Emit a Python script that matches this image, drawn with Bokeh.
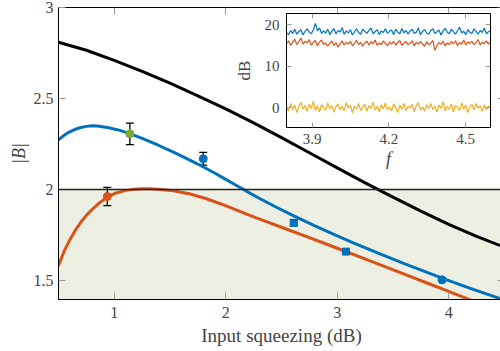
from bokeh.plotting import figure
from bokeh.models import (ColumnDataSource, Whisker, TeeHead, BoxAnnotation, Span,
                          LinearAxis, FixedTicker, Range1d)
from bokeh.layouts import column
from bokeh.embed import file_html
from bokeh.resources import INLINE

FONT = "Liberation Serif"
BLUE = "#0072BD"
ORANGE = "#D95319"
GREEN = "#77AC30"
YELLOW = "#EDB120"
SHADE = "#ECEFE2"

# ---- main curves ----
black_x = [0.5, 0.75, 1.0, 1.25, 1.5, 1.75, 2.0, 2.25, 2.5, 2.75, 3.0, 3.25, 3.5, 3.75, 4.0, 4.25, 4.5]
black_y = [2.809, 2.765, 2.710, 2.649, 2.584, 2.515, 2.443, 2.366, 2.285, 2.202, 2.119, 2.037, 1.958, 1.881, 1.809, 1.743, 1.683]

blue_x = [0.5, 0.55, 0.6, 0.65, 0.7, 0.75, 0.8, 0.85, 0.95, 1.05, 1.14, 1.25, 1.4, 1.55, 1.7, 1.8, 1.9, 2.0, 2.1, 2.18, 2.3, 2.45, 2.61, 2.8, 3.0, 3.16, 3.4, 3.6, 3.8, 3.964, 4.2, 4.5]
blue_y = [2.273, 2.298, 2.317, 2.331, 2.341, 2.347, 2.350, 2.349, 2.339, 2.325, 2.307, 2.281, 2.242, 2.200, 2.155, 2.124, 2.091, 2.056, 2.021, 1.993, 1.952, 1.904, 1.855, 1.800, 1.745, 1.703, 1.642, 1.593, 1.546, 1.508, 1.456, 1.393]

orange_x = [0.5, 0.55, 0.6, 0.65, 0.7, 0.75, 0.8, 0.87, 0.9375, 1.01, 1.095, 1.17, 1.25, 1.32, 1.393, 1.53, 1.672, 1.82, 1.97, 2.12, 2.268, 2.5, 2.714, 2.9, 3.071, 3.3, 3.607, 3.8, 3.964, 4.21, 4.3]
orange_y = [1.582, 1.660, 1.722, 1.775, 1.820, 1.858, 1.890, 1.928, 1.958, 1.980, 1.994, 2.001, 2.004, 2.004, 2.002, 1.993, 1.977, 1.951, 1.918, 1.882, 1.846, 1.793, 1.744, 1.701, 1.661, 1.607, 1.534, 1.488, 1.449, 1.390, 1.368]

# ---- measured points ----
green_x, green_y, green_err = [1.14], [2.306], [0.059]
bcirc_x, bcirc_y, bcirc_err = [1.798, 3.94], [2.169, 1.504], [0.035, 0.008]
bsq_x, bsq_y, bsq_err = [2.61, 3.078], [1.817, 1.659], [0.016, 0.008]
ocirc_x, ocirc_y, ocirc_err = [0.9375], [1.962], [0.05]

threshold = 2.0

x_min, x_max = 0.5, 4.5
y_min, y_max = 1.396, 3.0
x_ticks = [1, 2, 3, 4]
y_ticks = [1.5, 2, 2.5, 3]

# ---- inset traces (estimated) ----
f_start, f_stop = 3.8, 4.597
db_min, db_max = -4.8, 22.7
trace_blue = [18.1,17.6,18.6,17.9,18.9,17.7,18.3,18.8,17.5,18.4,
 19.0,18.2,17.8,18.7,20.3,18.6,19.2,17.9,18.5,18.0,
 18.9,17.6,18.4,19.1,17.8,18.6,18.2,19.3,17.7,18.5,
 18.0,18.8,17.5,18.3,19.0,18.1,17.7,18.9,18.4,17.9,
 18.6,19.2,17.8,18.3,18.8,17.6,18.5,18.1,19.0,17.9,
 18.4,18.7,17.6,18.9,18.2,17.8,19.1,18.0,18.6,17.7,
 18.5,18.9,17.9,18.2,19.2,17.6,18.4,18.8,18.0,17.7,
 18.6,19.0,17.9,18.3,18.7,17.5,18.5,19.1,18.2,17.8,
 18.9,18.3,17.7,18.6,19.4,18.0,18.4,17.6,18.8,18.2,
 17.9,19.0,18.4,17.7,18.6,18.1,19.2,17.8,18.3,18.5]
trace_orange = [15.4,16.1,15.0,15.8,16.5,15.2,15.9,16.8,15.3,16.0,
 15.6,16.4,15.1,15.7,16.2,14.9,15.8,16.3,15.2,15.6,
 14.8,15.5,16.0,15.0,15.7,14.6,15.4,16.1,15.1,15.8,
 15.3,16.0,14.9,15.5,16.2,15.2,15.7,14.8,15.6,16.0,
 15.1,15.9,15.4,16.3,15.0,15.6,15.2,16.1,15.5,14.9,
 15.8,15.3,16.0,15.1,15.7,16.2,15.0,15.6,15.9,15.2,
 15.5,16.1,14.9,15.7,15.3,16.0,15.4,14.8,15.9,15.2,
 15.6,16.2,13.8,15.0,15.7,15.3,16.0,14.9,15.6,15.2,
 15.9,15.4,16.1,15.0,15.7,15.3,16.3,15.1,15.8,15.5,
 16.0,15.2,15.7,16.4,15.1,15.8,15.4,16.1,15.3,15.9]
trace_yellow = [0.3,-0.8,1.0,-0.5,0.6,-1.2,0.2,1.3,-0.4,0.5,
 -0.9,0.8,-0.2,1.5,-0.7,0.4,-1.0,0.7,0.0,-0.6,
 1.1,-0.3,0.5,-1.1,0.2,0.9,-0.5,0.3,-0.8,1.2,
 -0.1,0.6,-1.3,0.4,-0.4,1.0,-0.7,0.1,0.8,-0.9,
 0.5,-0.2,1.3,-0.6,0.3,-1.0,0.7,-0.3,1.1,-0.5,
 0.2,-0.8,0.9,0.0,-1.2,0.6,-0.4,1.0,-0.7,0.3,
 -0.1,0.8,-1.0,0.5,1.2,-0.6,0.2,-0.9,0.7,-0.3,
 1.0,-0.5,0.4,-1.1,0.6,-0.2,1.4,-0.8,0.3,-0.4,
 0.9,-1.0,0.5,0.1,-0.7,1.1,-0.3,0.6,-1.2,0.2,
 0.8,-0.6,1.0,-0.2,0.4,-0.9,0.7,-0.5,0.3,0.1]
inset_x_ticks = [3.9, 4.2, 4.5]
inset_y_ticks = [0, 10, 20]

n = len(trace_blue)
freqs = [f_start + (f_stop - f_start) * i / (n - 1) for i in range(n)]

TICK_COLOR = "#9a9a9a"


def style_axis(ax, size="16px", tick_len=7):
    ax.axis_line_color = "black"
    ax.major_tick_in = tick_len
    ax.major_tick_out = 0
    ax.minor_tick_in = 0
    ax.minor_tick_out = 0
    ax.minor_tick_line_color = None
    ax.major_tick_line_color = TICK_COLOR
    ax.major_label_text_font = FONT
    ax.major_label_text_font_size = size
    ax.axis_label_text_font = FONT
    ax.axis_label_text_font_style = "normal"


def mirror_axis(fig, ticks, side, loc, tick_len):
    ax = LinearAxis(ticker=FixedTicker(ticks=ticks), fixed_location=loc)
    style_axis(ax, tick_len=tick_len)
    ax.major_label_text_color = None
    ax.major_label_text_font_size = "1px"
    ax.major_label_standoff = 0
    fig.add_layout(ax, side)


p = figure(frame_width=447, frame_height=292, x_range=Range1d(x_min, x_max), y_range=Range1d(y_min, y_max),
           output_backend="svg", toolbar_location=None,
           min_border_left=52, min_border_right=1, min_border_top=7, min_border_bottom=52)
p.background_fill_color = "white"
p.border_fill_color = "white"
p.outline_line_color = "black"
p.xgrid.visible = False
p.ygrid.visible = False

p.xaxis.ticker = FixedTicker(ticks=x_ticks)
p.yaxis.ticker = FixedTicker(ticks=y_ticks)
style_axis(p.xaxis[0], "16px")
style_axis(p.yaxis[0], "16px")
p.xaxis.axis_label = "Input squeezing (dB)"
p.xaxis.axis_label_text_font_size = "19px"
p.xaxis.major_label_standoff = 7
p.xaxis.axis_label_standoff = 4
p.yaxis.axis_label = "|B|"
p.yaxis.axis_label_text_font_size = "18px"
p.yaxis.axis_label_text_font_style = "italic"
p.yaxis.major_label_standoff = 5
p.yaxis.axis_label_standoff = 2

mirror_axis(p, x_ticks, "above", y_max, 7)
mirror_axis(p, y_ticks, "right", x_max, 7)

p.add_layout(BoxAnnotation(top=threshold, fill_color=SHADE, fill_alpha=1.0, line_color=None, level="underlay"))
p.add_layout(Span(location=threshold, dimension="width", line_color="#222222", line_width=1.5))

p.line(black_x, black_y, line_color="black", line_width=3)
p.line(blue_x, blue_y, line_color=BLUE, line_width=3)
p.line(orange_x, orange_y, line_color=ORANGE, line_width=3)


def add_points(xs, ys, errs, color, marker, size):
    src = ColumnDataSource(dict(x=xs, y=ys,
                                lo=[a - b for a, b in zip(ys, errs)],
                                hi=[a + b for a, b in zip(ys, errs)]))
    w = Whisker(source=src, base="x", lower="lo", upper="hi", line_color="black", line_width=1.3,
                upper_head=TeeHead(size=8, line_color="black", line_width=1.3),
                lower_head=TeeHead(size=8, line_color="black", line_width=1.3))
    p.add_layout(w)
    p.scatter("x", "y", source=src, marker=marker, size=size, fill_color=color, line_color=color)


add_points(green_x, green_y, green_err, GREEN, "circle", 8)
add_points(bcirc_x, bcirc_y, bcirc_err, BLUE, "circle", 8)
add_points(bsq_x, bsq_y, bsq_err, BLUE, "square", 7)
add_points(ocirc_x, ocirc_y, ocirc_err, ORANGE, "circle", 8)

# ---- inset ----
ins = figure(frame_width=204, frame_height=114, x_range=Range1d(f_start, f_stop), y_range=Range1d(db_min, db_max),
             output_backend="svg", toolbar_location=None,
             min_border_left=58, min_border_right=10, min_border_top=13, min_border_bottom=48)
ins.border_fill_color = None
ins.background_fill_color = "white"
ins.outline_line_color = "black"
ins.xgrid.visible = False
ins.ygrid.visible = False
ins.xaxis.ticker = FixedTicker(ticks=inset_x_ticks)
ins.yaxis.ticker = FixedTicker(ticks=inset_y_ticks)
style_axis(ins.xaxis[0], "15px", 5)
style_axis(ins.yaxis[0], "15px", 5)
ins.xaxis.axis_label = "f"
ins.xaxis.axis_label_text_font_style = "italic"
ins.xaxis.axis_label_text_font_size = "18px"
ins.xaxis.major_label_standoff = 6
ins.xaxis.axis_label_standoff = 2
ins.yaxis.axis_label = "dB"
ins.yaxis.axis_label_text_font_size = "17px"
ins.yaxis.major_label_standoff = 7
ins.yaxis.axis_label_standoff = 8
mirror_axis(ins, inset_y_ticks, "right", f_stop, 5)
mirror_axis(ins, inset_x_ticks, "above", db_max, 5)

ins.line(freqs, trace_blue, line_color=BLUE, line_width=1.2)
ins.line(freqs, trace_orange, line_color=ORANGE, line_width=1.2)
ins.line(freqs, trace_yellow, line_color=YELLOW, line_width=1.2)

p.styles = {"position": "absolute", "left": "0px", "top": "0px"}
ins.styles = {"position": "absolute", "left": "228px", "top": "0px", "z-index": "10"}

layout = column(p, ins, styles={"position": "relative", "width": "500px", "height": "351px",
                                "overflow": "hidden"})

open("out.html", "w").write(file_html(layout, INLINE))
